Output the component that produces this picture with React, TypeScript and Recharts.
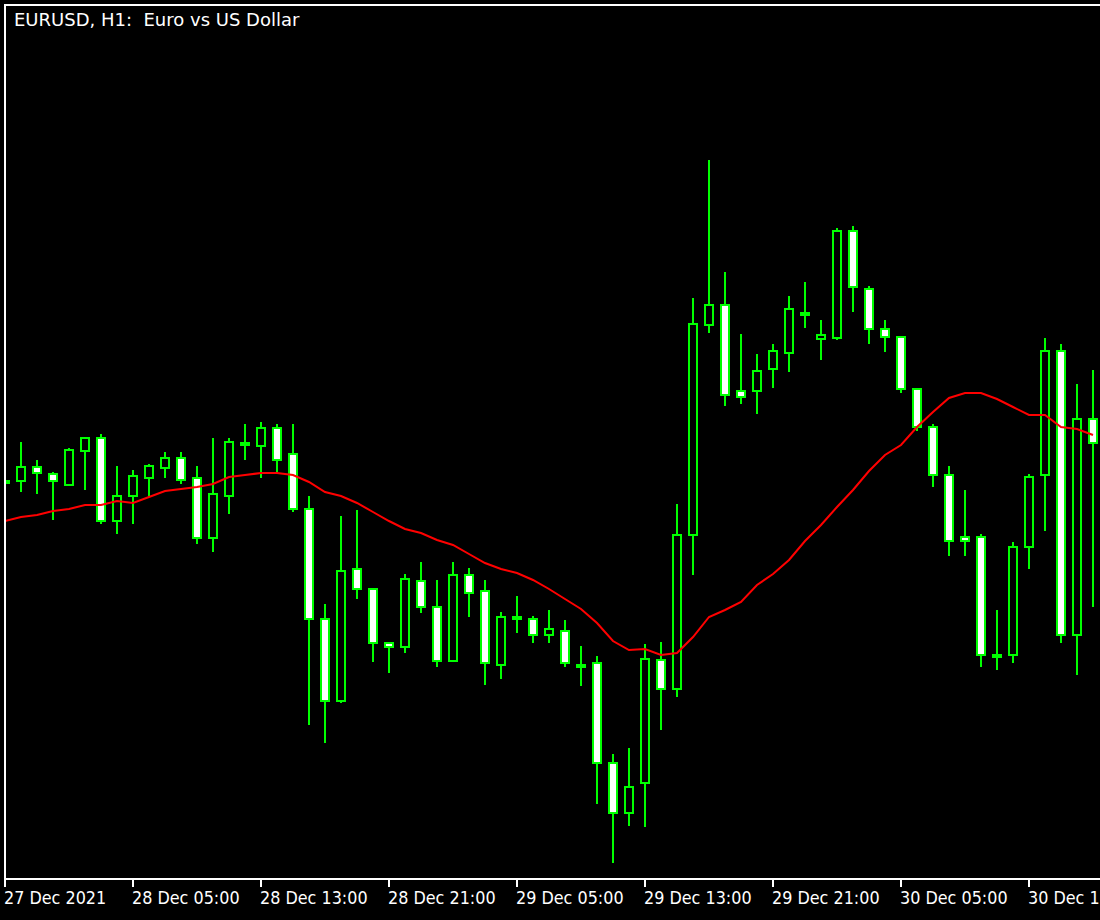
import { Bar, ComposedChart, Line, XAxis, YAxis } from "recharts";

// EURUSD H1, one bar per hour starting 27 Dec 2021 21:00
const timeLabels = [
  "27 Dec 2021",
  "28 Dec 05:00",
  "28 Dec 13:00",
  "28 Dec 21:00",
  "29 Dec 05:00",
  "29 Dec 13:00",
  "29 Dec 21:00",
  "30 Dec 05:00",
  "30 Dec 13:00",
];

const opens = [
  1.13519, 1.13519, 1.13533, 1.13526, 1.13515, 1.13549, 1.13562, 1.13479, 1.13504, 1.13522,
  1.13532, 1.13542, 1.13522, 1.13462, 1.13504, 1.13555, 1.13554, 1.13572, 1.13546, 1.13491,
  1.13381, 1.13299, 1.13431, 1.13411, 1.13357, 1.13353, 1.13419, 1.13393, 1.13339, 1.13425,
  1.13409, 1.13335, 1.13383, 1.13381, 1.13365, 1.13369, 1.13335, 1.13337, 1.13237, 1.13187,
  1.13217, 1.1334, 1.13311, 1.13465, 1.13675, 1.13695, 1.13609, 1.13609, 1.13631, 1.13647,
  1.13685, 1.13661, 1.13662, 1.13769, 1.13711, 1.13671, 1.13663, 1.13611, 1.13573, 1.13525,
  1.13463, 1.13463, 1.13345, 1.13345, 1.13453, 1.13525, 1.13649, 1.13365, 1.13581,
];

const highs = [
  1.13523, 1.13558, 1.1354, 1.13528, 1.13552, 1.13562, 1.13566, 1.13534, 1.1353, 1.13536,
  1.13548, 1.13548, 1.13534, 1.13562, 1.13562, 1.13576, 1.13578, 1.13576, 1.13576, 1.13504,
  1.13396, 1.13484, 1.1349, 1.13411, 1.13357, 1.13426, 1.13438, 1.1342, 1.13438, 1.13432,
  1.1342, 1.13388, 1.13404, 1.13384, 1.1339, 1.1338, 1.13354, 1.13344, 1.13246, 1.13252,
  1.13356, 1.13358, 1.13496, 1.13702, 1.1384, 1.13728, 1.13666, 1.13646, 1.13656, 1.13704,
  1.13718, 1.1368, 1.13772, 1.13774, 1.13714, 1.1368, 1.13664, 1.13611, 1.13576, 1.13534,
  1.1351, 1.13466, 1.1339, 1.13458, 1.13526, 1.13662, 1.13656, 1.13616, 1.1363,
];

const lows = [
  1.13515, 1.13508, 1.13506, 1.1348, 1.13515, 1.1351, 1.13476, 1.13466, 1.13476, 1.13504,
  1.13522, 1.13516, 1.13456, 1.13448, 1.13486, 1.1354, 1.13522, 1.13528, 1.13488, 1.13275,
  1.13257, 1.13297, 1.13401, 1.13338, 1.13327, 1.13347, 1.13387, 1.13333, 1.13339, 1.13383,
  1.13315, 1.13321, 1.13367, 1.13357, 1.13357, 1.13333, 1.13314, 1.13196, 1.13137, 1.13174,
  1.13173, 1.1327, 1.13303, 1.13425, 1.13667, 1.13594, 1.13596, 1.13586, 1.13612, 1.13628,
  1.13672, 1.1364, 1.1366, 1.13688, 1.13656, 1.13648, 1.13607, 1.13569, 1.13513, 1.13444,
  1.13444, 1.13333, 1.1333, 1.13337, 1.13431, 1.13469, 1.13357, 1.13325, 1.13393,
];

const closes = [
  1.13519, 1.13533, 1.13527, 1.13519, 1.1355, 1.13562, 1.13479, 1.13504, 1.13524, 1.13534,
  1.13542, 1.1352, 1.13462, 1.13506, 1.13558, 1.13557, 1.13572, 1.1354, 1.13491, 1.13381,
  1.13299, 1.13429, 1.13411, 1.13357, 1.13353, 1.13421, 1.13393, 1.13339, 1.13425, 1.13407,
  1.13337, 1.13383, 1.13381, 1.13365, 1.13371, 1.13337, 1.13335, 1.13237, 1.13187, 1.13213,
  1.13341, 1.13311, 1.13465, 1.13676, 1.13695, 1.13605, 1.13603, 1.13629, 1.13649, 1.13691,
  1.13687, 1.13665, 1.13769, 1.13713, 1.13671, 1.13663, 1.13611, 1.13573, 1.13525, 1.13459,
  1.13459, 1.13345, 1.13345, 1.13453, 1.13523, 1.13649, 1.13365, 1.13581, 1.13557,
];

// moving average (red line)
const maValues = [
  1.13479, 1.13483, 1.13485, 1.13489, 1.13491, 1.13495, 1.13495, 1.13499, 1.13497, 1.13503,
  1.13509, 1.13511, 1.13513, 1.13516, 1.13523, 1.13525, 1.13527, 1.13527, 1.13525, 1.13518,
  1.13508, 1.13504, 1.13497, 1.13488, 1.13479, 1.13471, 1.13467, 1.1346, 1.13455, 1.13446,
  1.13437, 1.13431, 1.13427, 1.1342, 1.13411, 1.13401, 1.13391, 1.13377, 1.13359, 1.1335,
  1.13351, 1.13345, 1.13347, 1.13363, 1.13383, 1.1339, 1.13398, 1.13415, 1.13426, 1.1344,
  1.13459, 1.13475, 1.13493, 1.1351, 1.13529, 1.13545, 1.13555, 1.13573, 1.13588, 1.13602,
  1.13607, 1.13607, 1.13601, 1.13593, 1.13585, 1.13585, 1.13573, 1.13571, 1.13565,
];

const data = opens.map((open, i) => ({
  i,
  open,
  high: highs[i],
  low: lows[i],
  close: closes[i],
  ma: maValues[i],
  range: [lows[i], highs[i]],
}));

const tickIndices = timeLabels.map((_, n) => n * 8);

const GREEN = "#00ff00";

function Candle(props: any) {
  const { x, y, width, height, payload } = props;
  if (!payload) return null;
  const { open, close, high, low } = payload;
  const top = Math.min(y, y + height);
  const span = Math.abs(height);
  const yOf = (p: number) =>
    high === low ? top : top + ((high - p) / (high - low)) * span;
  const cx = x + width / 2;
  const bodyTop = yOf(Math.max(open, close));
  const bodyBottom = yOf(Math.min(open, close));
  const bull = close > open;
  return (
    <g>
      <rect x={cx - 1} y={top} width={2} height={Math.max(span, 2)} fill={GREEN} />
      <rect
        x={cx - 4}
        y={bodyTop}
        width={8}
        height={Math.max(bodyBottom - bodyTop, 2)}
        fill={bull ? "#000" : "#fff"}
        stroke={GREEN}
        strokeWidth={2}
      />
    </g>
  );
}

function TimeTick(props: any) {
  const { x, payload } = props;
  const label = timeLabels[Math.round(payload.value / 8)];
  return (
    <g transform={`translate(${x - 1},904) scale(0.89,1)`}>
      <text x={0} y={0} fill="#fff" fontSize={18} fontFamily="DejaVu Sans">
        {label}
      </text>
    </g>
  );
}

export default function App() {
  return (
    <div
      style={{
        position: "absolute",
        left: 0,
        top: 0,
        width: 1100,
        height: 920,
        background: "#000",
        overflow: "hidden",
      }}
    >
      <ComposedChart
        width={1100}
        height={920}
        data={data}
        margin={{ top: 5, right: 0, bottom: 0, left: 5 }}
      >
        <XAxis
          dataKey="i"
          type="number"
          domain={[0, 68.4375]}
          ticks={tickIndices}
          interval={0}
          allowDataOverflow
          height={41}
          axisLine={{ stroke: "#fff", strokeWidth: 2 }}
          tickLine={{ stroke: "#fff", strokeWidth: 2 }}
          tickSize={8}
          tick={<TimeTick />}
        />
        <YAxis hide domain={[1.13121, 1.13995]} allowDataOverflow />
        <Bar
          dataKey="range"
          barSize={10}
          shape={<Candle />}
          isAnimationActive={false}
        />
        <Line
          type="linear"
          dataKey="ma"
          stroke="#ff0000"
          strokeWidth={2}
          dot={false}
          activeDot={false}
          isAnimationActive={false}
        />
      </ComposedChart>
      <svg
        width={1100}
        height={920}
        style={{ position: "absolute", left: 0, top: 0, pointerEvents: "none" }}
      >
        <rect x={4} y={4} width={2} height={876} fill="#fff" />
        <rect x={4} y={4} width={1096} height={2} fill="#fff" />
        <text x={14} y={26} fill="#fff" fontSize={18} fontFamily="DejaVu Sans">
          EURUSD, H1:{"\u00a0\u00a0"}Euro vs US Dollar
        </text>
      </svg>
    </div>
  );
}
